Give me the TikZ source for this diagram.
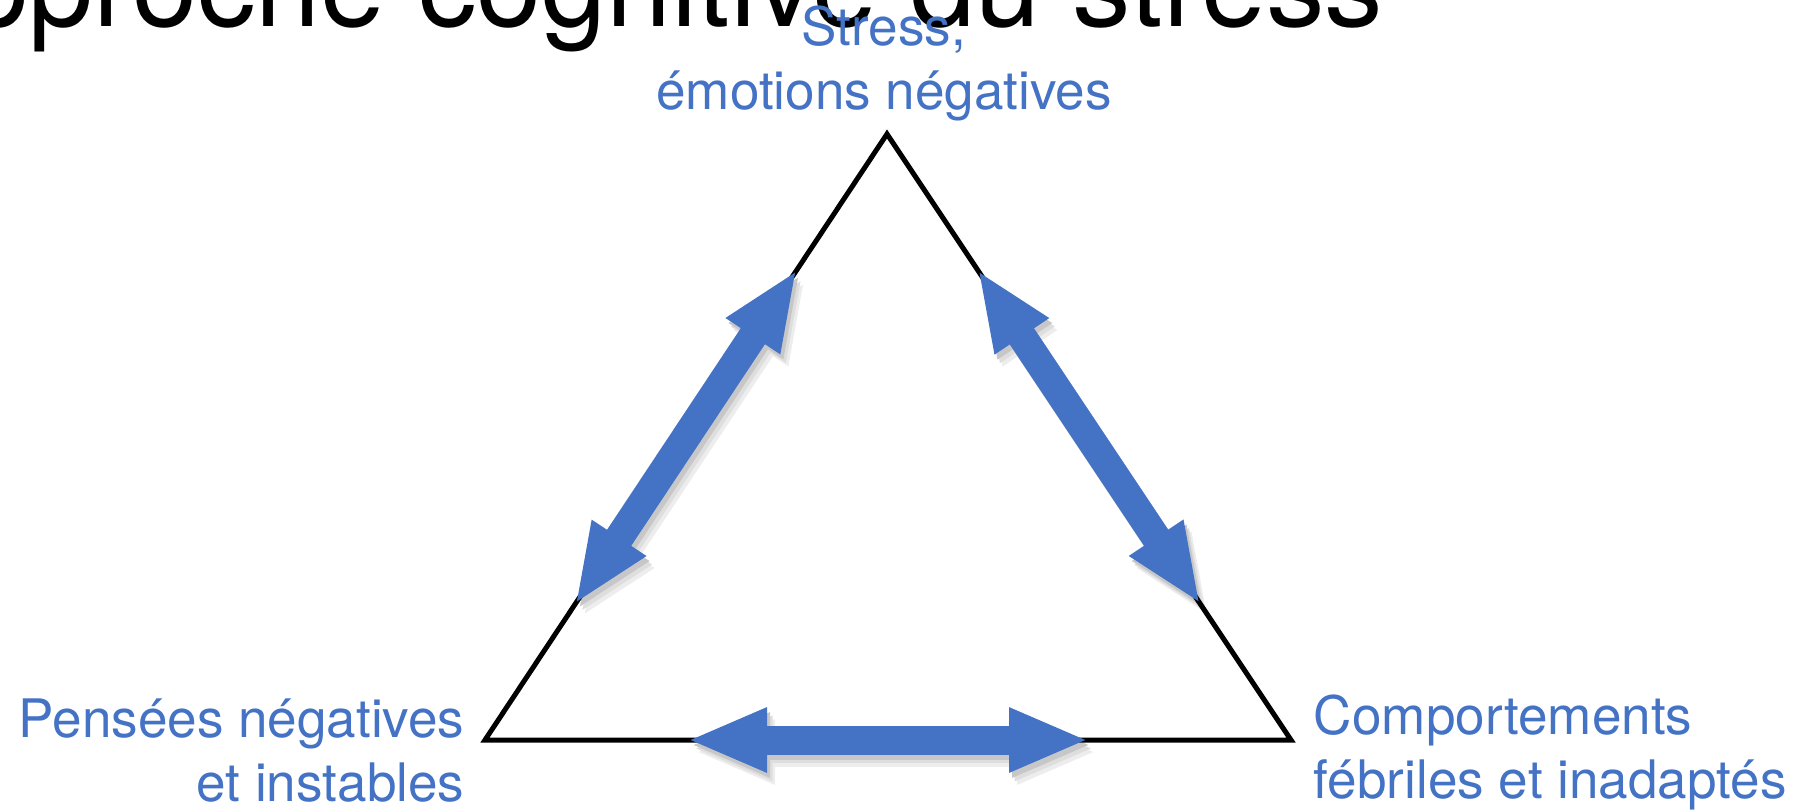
\documentclass[tikz,border=0pt]{standalone}
\usepackage{fontspec}
\setmainfont{TeX Gyre Heros}
\usetikzlibrary{arrows.meta,calc}
\definecolor{accentblue}{HTML}{4472C4}

\begin{document}
\begin{tikzpicture}[x=0.1mm, y=-0.1mm,
    label/.style={text=accentblue, font=\fontsize{15.1pt}{18pt}\selectfont, inner sep=0pt},
    edge/.style={draw=black, line width=0.5mm, line join=miter},
    twoway/.style={line width=2.9mm, {Triangle[length=8mm,width=5.9mm]}-{Triangle[length=8mm,width=5.9mm]}},
    shade/.style={twoway, color=#1}]

    \useasboundingbox (0,0) rectangle (1801,810);
    \clip (0,0) rectangle (1801,810);

    % Title (cut at the top)
    \node [anchor=base east, inner sep=0pt, font=\fontsize{33.3pt}{40pt}\selectfont] (title) at (1384,26) {Approche cognitive du stress};

    % Corners
    \coordinate (top) at (887,134);
    \coordinate (pl) at (485,740);
    \coordinate (pr) at (1291,740);
    \coordinate (m1) at ($(pl)!.5!(top)$);
    \coordinate (m2) at ($(pr)!.5!(top)$);
    \coordinate (m3) at ($(pl)!.5!(pr)$);

    % Shadows
    \foreach \c/\dx/\dy in {black!7/0.8mm/-1.2mm, black!13/0.55mm/-0.85mm, black!22/0.3mm/-0.5mm} {
        \begin{scope}[transform canvas={shift={(\dx,\dy)}}]
            \draw [shade=\c] ($(m1)!20.1mm!(pl)$) -- ($(m1)!20.1mm!(top)$);
            \draw [shade=\c] ($(m2)!20.1mm!(pr)$) -- ($(m2)!20.1mm!(top)$);
            \draw [shade=\c] ($(m3)!20.1mm!(pl)$) -- ($(m3)!20.1mm!(pr)$);
        \end{scope}
    }

    % Triangle
    \draw [edge] (top) -- (pr) -- (pl) -- cycle;

    % Arrows
    \draw [shade=accentblue] ($(m1)!20.1mm!(pl)$) -- ($(m1)!20.1mm!(top)$);
    \draw [shade=accentblue] ($(m2)!20.1mm!(pr)$) -- ($(m2)!20.1mm!(top)$);
    \draw [shade=accentblue] ($(m3)!20.1mm!(pl)$) -- ($(m3)!20.1mm!(pr)$);

    % Labels (base = last line)
    \node [label, anchor=base, align=center] (stress) at (884,109) {Stress,\\émotions négatives};
    \node [label, anchor=base east, align=right] (pensees) at (465,801) {Pensées négatives\\et instables};
    \node [label, anchor=base west, align=left] (comport) at (1313,798) {Comportements\\fébriles et inadaptés};

\end{tikzpicture}
\end{document}
